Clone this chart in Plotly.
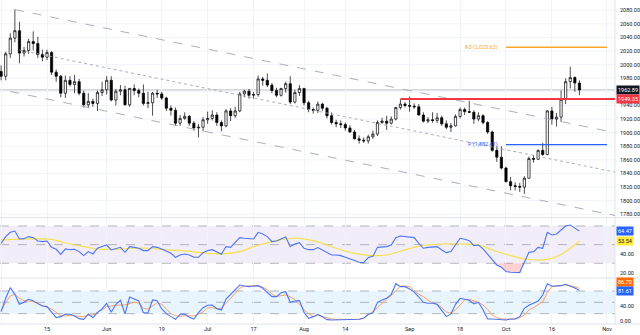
import pandas as pd
import plotly.graph_objects as go

# ---------------- data ----------------
dates = [d.strftime('%Y-%m-%d') for d in pd.bdate_range('2023-05-01', '2023-10-24')]
axis_days = [d.strftime('%Y-%m-%d') for d in pd.bdate_range('2023-05-01', '2023-11-03')]

opens = [1990,1983,2016,2039,2050,2017,2021,2034,2031,2015,
         2011,2018,1989,1983,1958,1977,1971,1975,1958,1941,
         1946,1943,1959,1963,1977,1948,1961,1963,1941,1965,
         1962,1958,1943,1944,1958,1957,1951,1936,1933,1914,
         1921,1924,1914,1907,1908,1919,1921,1926,1915,1910,
         1932,1925,1932,1957,1961,1955,1956,1979,1977,1970,
         1962,1955,1965,1972,1945,1959,1965,1944,1934,1933,
         1942,1936,1925,1915,1913,1912,1907,1901,1891,1889,
         1888,1894,1898,1915,1917,1914,1920,1937,1942,1940,
         1939,1938,1926,1917,1919,1918,1922,1913,1908,1910,
         1924,1934,1931,1930,1920,1925,1915,1901,1874,1864,
         1848,1828,1822,1821,1820,1833,1862,1861,1874,1868,
         1932,1920,1923,1949,1975,1981,1973]
highs = [1999,2019,2046,2081,2063,2026,2038,2049,2041,2022,
         2022,2020,1993,1985,1984,1983,1985,1979,1962,1958,
         1950,1962,1975,1983,1983,1964,1970,1969,1966,1971,
         1965,1971,1960,1960,1963,1960,1953,1940,1937,1926,
         1930,1926,1917,1913,1923,1931,1933,1930,1918,1935,
         1936,1938,1960,1963,1964,1960,1984,1982,1987,1973,
         1966,1966,1975,1983,1963,1970,1966,1947,1937,1946,
         1944,1938,1930,1919,1918,1915,1911,1904,1896,1893,
         1897,1903,1918,1922,1925,1924,1938,1949,1945,1953,
         1943,1942,1930,1923,1930,1929,1925,1918,1914,1927,
         1937,1937,1947,1933,1930,1927,1917,1903,1880,1880,
         1850,1835,1827,1826,1836,1865,1867,1875,1885,1933,
         1938,1929,1962,1980,1997,1983,1977]
lows = [1977,1977,2010,2033,2002,2012,2016,2021,2010,2005,
        2007,1985,1975,1952,1951,1968,1958,1955,1937,1936,
        1938,1932,1954,1956,1946,1940,1955,1940,1938,1955,
        1952,1940,1936,1925,1951,1948,1932,1925,1910,1910,
        1919,1910,1903,1893,1902,1913,1918,1910,1902,1908,
        1917,1922,1930,1952,1950,1950,1953,1969,1967,1958,
        1952,1953,1959,1942,1943,1954,1940,1930,1928,1929,
        1932,1921,1912,1908,1907,1903,1900,1890,1884,1885,
        1884,1891,1895,1913,1904,1912,1918,1934,1937,1931,
        1935,1925,1915,1914,1915,1914,1910,1905,1901,1909,
        1921,1926,1929,1913,1917,1912,1898,1872,1857,1846,
        1827,1815,1815,1813,1810,1833,1856,1860,1866,1867,
        1912,1909,1916,1942,1965,1960,1955]
closes = [1983,2016,2039,2050,2017,2021,2034,2031,2015,2011,
          2018,1989,1983,1958,1977,1971,1975,1958,1941,1946,
          1943,1959,1963,1977,1948,1961,1963,1941,1965,1962,
          1958,1943,1944,1958,1957,1951,1936,1933,1914,1921,
          1924,1914,1907,1908,1919,1921,1926,1915,1910,1932,
          1925,1932,1957,1961,1955,1956,1979,1977,1970,1962,
          1955,1965,1972,1945,1959,1965,1944,1934,1933,1942,
          1936,1925,1915,1913,1912,1907,1901,1891,1889,1888,
          1894,1898,1915,1917,1914,1920,1937,1942,1940,1939,
          1938,1926,1917,1919,1918,1922,1913,1908,1910,1924,
          1934,1931,1930,1920,1925,1915,1901,1874,1864,1848,
          1828,1822,1821,1820,1833,1862,1861,1874,1868,1932,
          1920,1923,1949,1975,1981,1973,1962.89]

rsi = [51.4,58.6,63.2,64.6,56.1,56.4,58.6,57.5,53.9,53.2,
       53.9,47.1,45.0,39.6,45.4,44.6,45.0,42.5,38.2,42.5,
       40.0,46.1,47.9,49.6,44.3,46.1,47.1,41.8,47.9,47.1,
       46.1,43.6,43.6,47.9,47.1,45.4,43.2,40.7,36.4,38.9,
       40.0,38.9,36.4,36.4,41.4,43.6,44.6,41.8,39.6,47.9,
       47.1,52.5,57.5,56.8,56.1,56.1,63.2,61.4,58.6,53.2,
       53.9,56.1,58.2,47.9,50.7,52.1,46.1,44.6,44.6,46.8,
       44.3,42.1,38.9,38.9,38.2,36.4,35.0,32.9,31.1,30.7,
       36.1,37.5,47.1,47.9,47.9,49.6,57.5,59.3,58.9,58.2,
       57.5,51.4,46.1,47.1,47.1,47.9,44.3,41.4,42.5,49.6,
       56.8,55.7,54.3,48.9,49.6,45.4,39.6,32.9,28.2,25.7,
       21.1,20.4,20.4,20.0,31.1,41.8,42.5,47.1,46.1,63.2,
       60.4,61.4,65.7,70.0,71.1,68.2,64.47]

rsi_ma_bars = [0, 3, 7, 11, 12, 14, 18, 21, 25, 29, 32, 36, 40, 43, 48, 52, 55, 59, 62,
               65, 68, 70, 73, 77, 81, 84, 88, 90, 93, 96, 100, 104, 107, 111, 114,
               118, 120, 122, 124, 125, 126]
rsi_ma = [55.0, 55.7, 56.1, 55.7, 54.6, 51.8, 47.9, 45.2, 45.0, 46.1, 46.1, 44.3, 43.2, 41.8,
          40.0, 42.5, 47.9, 53.2, 56.1, 56.8, 54.3, 51.4, 46.1, 40.7, 38.2, 38.9, 44.3,
          47.1, 49.6, 50.7, 50.7, 49.6, 44.3, 38.2, 34.6, 33.6, 35.4, 39.5, 46.0, 49.8, 53.54]

stoch_k = [25.3,60.6,88.8,71.2,44.7,50.0,58.0,54.4,46.5,40.3,
           38.6,22.7,9.5,12.1,19.2,18.3,13.9,6.8,5.0,19.2,
           9.5,23.6,32.4,47.4,23.6,44.7,55.3,19.2,64.1,58.8,
           53.5,22.7,21.8,56.2,54.4,32.4,20.0,12.1,5.0,18.3,
           19.2,10.4,5.9,22.7,35.9,42.1,43.0,33.3,29.7,58.8,
           71.2,83.5,95.9,93.2,91.5,93.2,94.1,87.1,75.6,65.0,
           65.0,75.6,78.2,50.0,53.5,54.4,23.6,7.7,12.1,18.3,
           12.1,4.2,3.3,3.3,3.3,5.0,4.2,3.3,5.0,7.7,
           18.3,21.8,50.0,56.2,60.6,71.2,99.4,91.5,91.5,85.3,
           77.0,64.1,50.0,47.4,47.4,44.7,29.7,12.1,19.2,44.7,
           60.6,58.8,55.3,45.6,50.0,30.6,5.9,5.9,5.0,3.3,
           3.3,5.9,5.9,12.1,34.1,42.1,47.4,53.5,69.4,99.4,
           92.4,93.2,94.1,97.6,93.2,87.9,81.61]
stoch_d = [27.0,50.0,66.8,71.2,60.6,54.4,53.5,51.8,46.5,42.1,
           38.6,32.4,23.6,14.7,13.9,15.6,14.7,12.1,12.1,15.6,
           16.5,22.7,29.7,38.6,40.3,41.2,43.0,43.0,46.5,50.0,
           48.2,34.1,31.5,41.2,49.1,44.7,32.4,20.0,14.7,13.0,
           14.7,13.9,13.9,18.3,25.3,35.0,35.9,33.3,34.1,47.4,
           60.6,74.7,87.1,93.2,93.2,93.2,93.2,90.6,83.5,72.1,
           65.0,67.7,69.4,65.0,57.1,45.6,30.6,20.0,12.1,15.6,
           12.1,9.5,5.9,5.0,5.0,5.0,5.9,5.9,5.0,8.6,
           16.5,25.3,35.9,48.2,58.8,67.7,80.0,93.2,93.2,91.5,
           81.0,71.2,65.0,55.3,49.1,44.7,35.9,24.4,21.8,29.7,
           43.0,57.1,58.0,53.5,50.0,43.0,31.5,16.5,9.5,5.9,
           5.0,5.0,5.9,9.5,16.5,29.7,35.9,43.0,51.1,76.7,
           91.5,93.2,94.1,95.9,94.1,91.5,86.70]

tick_dates = ['2023-05-01','2023-05-15','2023-06-01','2023-06-19','2023-07-03','2023-07-17',
              '2023-08-01','2023-08-14','2023-09-01','2023-09-18','2023-10-02','2023-10-16','2023-11-01']
tick_text = ['May','15','Jun','19','Jul','17','Aug','14','Sep','18','Oct','16','Nov']
# (1960 is covered by the last-price label in the reference)
price_ticks = [1780,1800,1820,1840,1860,1880,1900,1920,1940,1980,2000,2020,2040,2060,2080]
price_grid = [1780,1800,1820,1840,1860,1880,1900,1920,1940,1960,1980,2000,2020,2040,2060,2080]
rsi_ticks = [20, 40]
stoch_ticks = [0, 40]

last_price = 1962.89
support_level = 1949.35
support_start = '2023-08-30'
r3_level = 2025.62
pivot_level = 1882.41
pivot_span = ['2023-10-02', '2023-11-01']
# channel (start date, start price, end date, end price)
chan_upper = ['2023-05-04', 2081.0, '2023-11-03', 1899.7]
chan_mid = ['2023-05-05', 2021.6, '2023-11-03', 1841.7]
chan_lower = ['2023-05-03', 1960.6, '2023-11-03', 1777.9]

# ---------------- helpers ----------------
pos = {d: i for i, d in enumerate(axis_days)}
xi = [pos[d] for d in dates]
tickvals = [pos[d] for d in tick_dates]
XR = [-0.24, 133.75]
XD = 615 / 640
FONT = 'Roboto, Liberation Sans, Arial, sans-serif'
TXT = '#131722'

fig = go.Figure()

fig.add_trace(go.Candlestick(
    x=xi, open=opens, high=highs, low=lows, close=closes,
    increasing=dict(line=dict(color='#000000', width=0.7), fillcolor='#ffffff'),
    decreasing=dict(line=dict(color='#000000', width=0.7), fillcolor='#000000'),
    whiskerwidth=0, xaxis='x', yaxis='y', showlegend=False, hoverinfo='skip'))

# RSI oversold fill
os_idx = [i for i in range(len(rsi)) if 107 <= i <= 114]
fig.add_trace(go.Scatter(x=[xi[i] for i in os_idx], y=[30] * len(os_idx), mode='lines',
                         line=dict(width=0, color='rgba(0,0,0,0)'), xaxis='x2', yaxis='y2',
                         showlegend=False, hoverinfo='skip'))
fig.add_trace(go.Scatter(x=[xi[i] for i in os_idx], y=[min(rsi[i], 30) for i in os_idx], mode='lines',
                         line=dict(width=0, color='rgba(0,0,0,0)'), fill='tonexty',
                         fillcolor='rgba(255,90,90,0.28)', xaxis='x2', yaxis='y2',
                         showlegend=False, hoverinfo='skip'))

fig.add_trace(go.Scatter(x=[xi[i] for i in rsi_ma_bars], y=rsi_ma, mode='lines',
                         line=dict(color='#f5e14a', width=1.2, shape='spline', smoothing=1.0),
                         xaxis='x2', yaxis='y2', showlegend=False, hoverinfo='skip'))
fig.add_trace(go.Scatter(x=xi, y=rsi, mode='lines', line=dict(color='#4d74f5', width=1.1),
                         xaxis='x2', yaxis='y2', showlegend=False, hoverinfo='skip'))

fig.add_trace(go.Scatter(x=xi, y=stoch_d, mode='lines', line=dict(color='#f9a066', width=1.0),
                         xaxis='x3', yaxis='y3', showlegend=False, hoverinfo='skip'))
fig.add_trace(go.Scatter(x=xi, y=stoch_k, mode='lines', line=dict(color='#4d74f5', width=1.1),
                         xaxis='x3', yaxis='y3', showlegend=False, hoverinfo='skip'))

shapes = []
# price grid lines (including the one hidden behind the last-price label)
for pv in price_grid:
    shapes.append(dict(type='line', xref='paper', yref='y', x0=0, x1=XD, y0=pv, y1=pv,
                       line=dict(color='#f0f3fa', width=1), layer='below'))
# panel bands
shapes.append(dict(type='rect', xref='paper', yref='y2', x0=0, x1=XD, y0=30, y1=70,
                   fillcolor='rgba(126,87,194,0.10)', line=dict(width=0), layer='below'))
shapes.append(dict(type='rect', xref='paper', yref='y3', x0=0, x1=XD, y0=20, y1=80,
                   fillcolor='rgba(33,150,243,0.10)', line=dict(width=0), layer='below'))
for lv in (70, 50, 30):
    shapes.append(dict(type='line', xref='paper', yref='y2', x0=0, x1=XD, y0=lv, y1=lv,
                       line=dict(color='#9598a1', width=0.7, dash='dash'), layer='below'))
for lv in (80, 50, 20):
    shapes.append(dict(type='line', xref='paper', yref='y3', x0=0, x1=XD, y0=lv, y1=lv,
                       line=dict(color='#9598a1', width=0.7, dash='dash'), layer='below'))
# separators
for yy in (1 - 217.7 / 335, 1 - 278 / 335, 1 - 324 / 335):
    shapes.append(dict(type='line', xref='paper', yref='paper', x0=0, x1=1, y0=yy, y1=yy,
                       line=dict(color='#e0e3eb', width=1)))
shapes.append(dict(type='line', xref='paper', yref='paper', x0=XD, x1=XD, y0=1 - 324 / 335, y1=1,
                   line=dict(color='#e0e3eb', width=1)))
# channel lines
for ch, dsh in ((chan_upper, 'dash'), (chan_mid, 'dot'), (chan_lower, 'dash')):
    shapes.append(dict(type='line', xref='x', yref='y', x0=pos[ch[0]], y0=ch[1], x1=pos[ch[2]], y1=ch[3],
                       line=dict(color='#a3a6af', width=0.9, dash=dsh)))
# horizontal levels
shapes.append(dict(type='line', xref='paper', yref='y', x0=0, x1=XD, y0=last_price, y1=last_price,
                   line=dict(color='#c9cbd1', width=1.3), layer='below'))
shapes.append(dict(type='line', xref='x', yref='y', x0=pos[support_start], x1=XR[1] + 1,
                   y0=support_level, y1=support_level, line=dict(color='#f23645', width=2)))
shapes.append(dict(type='line', xref='x', yref='y', x0=pos[pivot_span[0]], x1=pos[pivot_span[1]],
                   y0=r3_level, y1=r3_level, line=dict(color='#ffa726', width=1.5)))
shapes.append(dict(type='line', xref='x', yref='y', x0=pos[pivot_span[0]], x1=pos[pivot_span[1]],
                   y0=pivot_level, y1=pivot_level, line=dict(color='#2962ff', width=1.3)))

ann = []
def box(text, yref, yv, bg, fg='#ffffff', yshift=0):
    ann.append(dict(text=text, xref='paper', yref=yref, x=XD + 0.002, y=yv, xanchor='left',
                    yanchor='middle', showarrow=False, bgcolor=bg, borderpad=1, yshift=yshift,
                    font=dict(size=5.5, color=fg, family=FONT)))

box('%.2f' % last_price, 'y', last_price, '#131722')
box('%.2f' % support_level, 'y', support_level, '#f23645')
box('%.2f' % rsi[-1], 'y2', rsi[-1], '#2962ff')
box('%.2f' % rsi_ma[-1], 'y2', rsi_ma[-1], '#ffeb3b', fg='#131722')
box('%.2f' % stoch_d[-1], 'y3', stoch_d[-1], '#ff6d00', yshift=6.5)
box('%.2f' % stoch_k[-1], 'y3', stoch_k[-1], '#2962ff', yshift=-0.5)

ann.append(dict(text='R3 (2,025.62)', xref='x', yref='y', x=pos[pivot_span[0]] - 1.3, y=r3_level,
                xanchor='right', yanchor='middle', showarrow=False,
                font=dict(size=5.5, color='#ffa726', family=FONT)))
ann.append(dict(text='P (1,882.41)', xref='x', yref='y', x=pos[pivot_span[0]] - 1.3, y=pivot_level,
                xanchor='right', yanchor='middle', showarrow=False,
                font=dict(size=5.5, color='#2962ff', family=FONT)))

xcommon = dict(range=XR, tickvals=tickvals, ticktext=tick_text, showgrid=True, gridcolor='#f0f3fa',
               gridwidth=1, zeroline=False, showline=False, ticks='', domain=[0, XD],
               fixedrange=True)
ycommon = dict(side='right', showline=False, zeroline=False, ticks='', automargin=False,
               tickfont=dict(size=5.5, color=TXT, family=FONT), ticklabelstandoff=4)

fig.update_layout(
    width=640, height=335, margin=dict(l=0, r=0, t=0, b=0),
    paper_bgcolor='#ffffff', plot_bgcolor='#ffffff', showlegend=False,
    font=dict(family=FONT, size=5.5, color=TXT),
    xaxis=dict(xcommon, anchor='y', showticklabels=False, rangeslider=dict(visible=False)),
    xaxis2=dict(xcommon, anchor='y2', matches='x', showticklabels=False),
    xaxis3=dict(xcommon, anchor='y3', matches='x', showticklabels=True,
                tickfont=dict(size=5.5, color=TXT, family=FONT)),
    yaxis=dict(ycommon, domain=[1 - 217.7 / 335, 1], range=[1775.0, 2095.1], anchor='x',
               tickvals=price_ticks, tickformat='.2f', showgrid=False),
    yaxis2=dict(ycommon, domain=[1 - 278 / 335, 1 - 217.7 / 335], range=[14.2, 78.9], anchor='x2',
                tickvals=rsi_ticks, tickformat='.2f', showgrid=False),
    yaxis3=dict(ycommon, domain=[1 - 324 / 335, 1 - 278 / 335], range=[-7.4, 114.4], anchor='x3',
                tickvals=stoch_ticks, tickformat='.2f', showgrid=False),
    shapes=shapes, annotations=ann,
)

fig.write_html('out.html')
